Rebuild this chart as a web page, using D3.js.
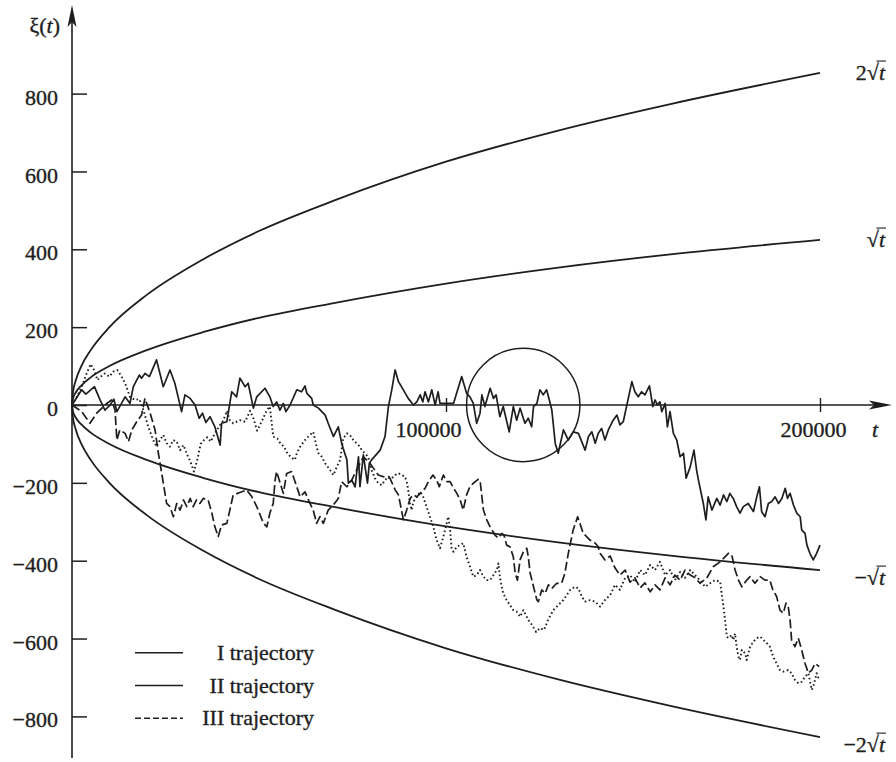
<!DOCTYPE html>
<html>
<head>
<meta charset="utf-8">
<script src="https://cdn.jsdelivr.net/npm/d3@7"></script>
<style>
  body { margin: 0; background: #fff; }
  svg { display: block; }
  text { font-family: "Liberation Serif", "Times New Roman", serif; fill: #1e1e1e; stroke: #1e1e1e; stroke-width: 0.35px; }
</style>
</head>
<body>
<svg id="chart" width="896" height="762"></svg>
<script>
// ---------- data ----------
const yTicks = [-800, -600, -400, -200, 0, 200, 400, 600, 800];
const xTicks = [100000, 200000];
const xTickLabels = ["100000", "200000"];

// envelope curves, read at these times
const boundT       = [0, 250, 1000, 2500, 5000, 10000, 20000, 35000, 50000, 70000, 100000, 130000, 160000, 200000];
const rootBound    = [0, 16, 32, 50, 71, 100, 141, 187, 224, 262, 312, 353, 387, 424];
const twoRootBound = [0, 32, 63, 100, 141, 200, 283, 374, 447, 525, 625, 705, 773, 853];

// sample paths [t, xi(t)]
const trajI = [
  [0,0],[2600,39],[3700,28],[6000,47],[7500,13],[8800,-13],[10200,0],[11200,15],[12000,-17],[14200,21],
  [15500,4],[16400,47],[18000,77],[18600,69],[19500,81],[20700,73],[22600,116],[24400,47],[26200,90],[27500,56],
  [29300,-17],[30200,26],[31600,17],[32900,0],[34000,-34],[34900,-21],[35800,-45],[36900,-30],[38200,-56],[39600,-103],
  [40000,-47],[41400,-43],[42700,34],[44000,21],[44900,69],[46300,47],[47100,56],[48500,-8],[49400,21],[51600,43],
  [52900,21],[53800,-4],[54700,8],[55600,-13],[56500,4],[57200,-17],[58300,0],[60100,39],[61400,34],[62300,49],
  [62800,30],[64100,17],[64500,0],[65900,-8],[66800,-17],[67700,-26],[68500,-47],[69900,-81],[71200,-56],[72100,-98],
  [72500,-111],[73500,-141],[73900,-201],[74800,-193],[75700,-210],[76600,-133],[77000,-210],[77900,-128],[79000,-201],[79500,-150],
  [80100,-141],[82400,-116],[83700,-81],[84600,-4],[85500,39],[86400,90],[87300,60],[88600,39],[89900,17],[91300,0],
  [92200,8],[93100,26],[93800,8],[94400,34],[95300,8],[96200,39],[97100,0],[97900,34],[98400,4],[102000,4],
  [104200,73],[105500,30],[106400,21],[107300,4],[108200,-47],[109100,-21],[109600,26],[110400,-4],[111800,43],[112700,17],
  [113400,26],[114400,-30],[115300,-4],[116900,-69],[118000,-4],[118900,-39],[119800,-8],[121100,-47],[122000,-34],[122900,-56],
  [123400,-4],[124300,4],[125100,39],[126000,26],[126900,39],[127400,21],[128300,-13],[129200,-98],[130000,-124],[131400,-64],
  [132700,-90],[134000,-69],[135400,-73],[137200,-116],[138100,-81],[139000,-69],[139900,-98],[140700,-73],[141600,-60],[142500,-90],
  [143400,-64],[144700,-39],[145700,-26],[146500,-51],[147400,-43],[149700,60],[150500,34],[151400,21],[152300,34],[153200,26],
  [154400,49],[155300,-4],[155900,13],[156500,0],[157200,8],[157700,-17],[158600,4],[159200,-56],[159900,-17],[160800,-73],
  [161700,-90],[162600,-133],[163500,-124],[164200,-188],[165300,-159],[166300,-116],[167000,-167],[167500,-193],[168800,-253],[169500,-295],
  [170100,-236],[171100,-270],[172400,-240],[173300,-257],[174200,-231],[175100,-248],[175900,-227],[176800,-240],[177700,-261],[178600,-278],
  [179500,-261],[180800,-253],[182200,-274],[183100,-236],[183800,-210],[184400,-274],[185300,-287],[186200,-253],[187100,-248],[188000,-236],
  [188900,-253],[189800,-240],[190700,-214],[191300,-240],[192000,-227],[192900,-257],[193800,-278],[194700,-287],[195100,-321],[196000,-330],
  [196500,-360],[197300,-381],[198200,-398],[199100,-381],[200000,-360]
];

const trajII = [
  [0,0],[1300,21],[2600,47],[3900,81],[5000,105],[5900,90],[6800,64],[7700,73],[8800,81],[10000,73],
  [11000,86],[12100,90],[13000,77],[14200,56],[15500,21],[16800,13],[18000,15],[19100,-13],[20400,-56],[21700,-90],
  [22600,-107],[23500,-90],[24400,-77],[25300,-98],[26200,-107],[27100,-90],[28000,-94],[28900,-116],[29800,-103],[30800,-128],
  [31700,-146],[32600,-171],[33500,-141],[34400,-100],[35300,-90],[36200,-83],[37100,-94],[38200,-73],[39600,-51],[40500,-39],
  [41400,-15],[42200,-39],[43100,-47],[44900,-39],[46300,-43],[47600,-15],[48500,-34],[49500,-66],[50700,-43],[52100,-13],
  [52900,-4],[53800,-81],[54900,-86],[55800,-100],[56700,-107],[57600,-124],[58500,-134],[59600,-141],[60100,-124],[61000,-107],
  [62300,-90],[63600,-77],[64500,-69],[65400,-107],[65900,-124],[66800,-133],[67700,-150],[69000,-167],[69900,-180],[70800,-159],
  [71700,-141],[72500,-86],[73500,-73],[74300,-77],[75200,-90],[76600,-103],[77500,-116],[78300,-124],[79200,-133],[80100,-167],
  [81000,-188],[81900,-201],[82800,-206],[83700,-193],[84600,-184],[85500,-188],[86400,-180],[87300,-175],[88200,-180],[89000,-184],
  [89500,-197],[89900,-218],[90400,-253],[90800,-270],[91300,-248],[92200,-236],[93100,-223],[93900,-236],[94800,-261],[95700,-287],
  [96600,-313],[97500,-347],[98400,-368],[99300,-338],[100600,-287],[101100,-321],[101500,-368],[102000,-377],[102900,-364],[103800,-360],
  [104600,-355],[105500,-390],[106400,-415],[107300,-441],[108200,-437],[109100,-424],[110000,-441],[110900,-450],[111800,-450],[112700,-437],
  [113600,-424],[114000,-407],[114400,-441],[114900,-467],[115300,-484],[116200,-501],[117100,-514],[118000,-527],[118900,-531],[119800,-544],
  [120700,-527],[122000,-552],[123000,-565],[124100,-583],[125100,-573],[126200,-578],[127300,-552],[128700,-527],[130000,-514],[131400,-501],
  [133200,-475],[134500,-467],[135400,-471],[136300,-492],[137200,-505],[138100,-501],[139900,-505],[141200,-518],[142500,-501],[143900,-488],
  [145200,-462],[146500,-475],[147900,-444],[149200,-437],[150500,-455],[151900,-424],[153200,-437],[154600,-411],[155900,-424],[157200,-403],
  [158600,-437],[159900,-424],[161200,-450],[162600,-429],[163900,-444],[165300,-424],[166600,-437],[167900,-450],[169300,-467],[170600,-458],
  [171900,-450],[173300,-454],[173700,-484],[174200,-518],[174600,-552],[175100,-595],[175500,-599],[176400,-591],[176800,-604],[177300,-587],
  [177700,-621],[178200,-647],[178600,-655],[179100,-629],[180000,-638],[180400,-655],[181300,-621],[182200,-608],[183100,-599],[184000,-595],
  [184900,-604],[185800,-612],[186600,-621],[187500,-647],[188400,-664],[189300,-681],[190200,-685],[191500,-681],[192400,-689],[193300,-706],
  [194200,-715],[195100,-711],[196000,-698],[196900,-689],[197800,-732],[198200,-724],[199100,-689],[199800,-707]
];

const trajIII = [
  [0,0],[2600,-17],[4800,-47],[6600,-21],[9300,4],[10600,13],[11500,-13],[12000,-90],[12800,-64],[14200,-73],
  [15100,-94],[16000,-64],[17300,-43],[18600,-26],[19500,17],[20900,-21],[22200,-64],[23100,-124],[24000,-176],[25300,-253],
  [26200,-261],[27100,-287],[28000,-253],[28900,-270],[29800,-244],[30700,-261],[31600,-240],[32400,-261],[33300,-244],[34200,-253],
  [35100,-240],[36400,-244],[37400,-278],[38200,-313],[39100,-338],[40000,-308],[41400,-304],[42200,-270],[43100,-231],[45400,-223],
  [46700,-218],[48100,-236],[49400,-261],[51200,-304],[52100,-313],[52900,-278],[53800,-253],[54300,-193],[54700,-171],[56500,-227],
  [57400,-176],[58700,-171],[60100,-210],[61000,-236],[62300,-223],[63200,-244],[64500,-270],[65400,-304],[66300,-287],[67200,-304],
  [68500,-270],[69900,-257],[71200,-240],[72100,-197],[73500,-210],[74800,-193],[76100,-167],[77900,-133],[79700,-150],[81900,-180],
  [83200,-184],[85000,-188],[86400,-218],[87300,-231],[88600,-295],[89500,-270],[90400,-240],[91300,-231],[92200,-236],[93100,-227],
  [94400,-214],[95300,-197],[96500,-180],[97500,-193],[98200,-210],[99300,-180],[100200,-197],[101100,-197],[101800,-210],[102900,-227],
  [103800,-244],[104600,-270],[105500,-231],[106400,-210],[107300,-201],[108600,-191],[109100,-193],[109600,-236],[110000,-270],[110900,-295],
  [111800,-313],[113100,-334],[114000,-342],[114900,-330],[115500,-334],[116200,-360],[117100,-364],[118000,-390],[118500,-432],[119100,-450],
  [119800,-398],[120700,-377],[121600,-368],[122000,-390],[122500,-432],[123400,-467],[124300,-501],[124700,-505],[125600,-475],[126500,-484],
  [127400,-462],[128300,-471],[129600,-458],[130900,-458],[131800,-432],[132700,-381],[134000,-321],[135200,-287],[135800,-304],[136700,-330],
  [137600,-338],[138500,-347],[139900,-355],[140700,-364],[141200,-381],[142500,-398],[143900,-388],[145200,-419],[146500,-437],[147900,-424],
  [149200,-455],[150500,-444],[151900,-470],[153200,-457],[154600,-480],[155900,-462],[157200,-475],[158600,-444],[159900,-462],[161200,-437],
  [162600,-450],[163900,-424],[165300,-437],[166600,-444],[167900,-458],[169700,-445],[171500,-415],[173300,-403],[174600,-390],[175500,-381],
  [176400,-385],[177300,-424],[178200,-450],[179100,-467],[180400,-450],[181300,-441],[182600,-458],[184000,-441],[185300,-450],[186600,-450],
  [187400,-475],[188400,-492],[189300,-527],[190200,-535],[190900,-509],[191500,-518],[192000,-552],[192400,-604],[193300,-621],[194200,-599],
  [195100,-629],[196000,-664],[196900,-689],[197800,-681],[198700,-664],[199800,-672]
];

// the ringed stretch of path I (time span covered by the circle)
const focusSpan = [105500, 135800];

const legendLabels = ["I trajectory", "II trajectory", "III trajectory"];

// ---------- drawing ----------
const svg = d3.select("#chart");
const ink = "#1e1e1e";
const fs = 22;

const x = d3.scaleLinear().domain([0, 200000]).range([72, 820]);
const y = d3.scaleLinear().domain([-800, 800]).range([716.4, 93.6]);

const x0 = x(0), y0 = y(0);

// y axis with arrow
svg.append("line").attr("x1", x0).attr("x2", x0).attr("y1", 758).attr("y2", 14)
  .attr("stroke", ink).attr("stroke-width", 1.6);
svg.append("path")
  .attr("d", `M${x0},5 L${x0 - 4.5},27 L${x0},22 L${x0 + 4.5},27 Z`)
  .attr("fill", ink);

// x axis with arrow
svg.append("line").attr("x1", x0).attr("x2", 884).attr("y1", y0).attr("y2", y0)
  .attr("stroke", ink).attr("stroke-width", 1.6);
svg.append("path")
  .attr("d", `M892,${y0} L869,${y0 - 4.5} L874,${y0} L869,${y0 + 4.5} Z`)
  .attr("fill", ink);

// y ticks (pointing inward) and labels
const yAxis = d3.axisLeft(y)
  .tickValues(yTicks)
  .tickSize(-15)
  .tickPadding(14)
  .tickFormat(d => d < 0 ? "\u2212" + Math.abs(d) : String(d));
const gy = svg.append("g").attr("transform", `translate(${x0},0)`).call(yAxis);
gy.select(".domain").remove();
gy.selectAll(".tick line").attr("stroke", ink).attr("stroke-width", 1.5);
gy.selectAll(".tick text")
  .attr("font-family", '"Liberation Serif", serif')
  .attr("font-size", fs)
  .attr("fill", ink)
  .attr("dy", "0.48em");
gy.attr("font-family", null).attr("font-size", null);

// x ticks and labels (labels sit a little left of their ticks)
const xLabelShift = [-18, -7];
const xAxis = d3.axisBottom(x)
  .tickValues(xTicks)
  .tickSize(7)
  .tickSizeOuter(0)
  .tickPadding(9.5)
  .tickFormat((d, i) => xTickLabels[i]);
const gx = svg.append("g").attr("transform", `translate(0,${y0})`).call(xAxis);
gx.select(".domain").remove();
gx.selectAll(".tick line").attr("stroke", ink).attr("stroke-width", 1.4).attr("y1", -7);
gx.selectAll(".tick text")
  .attr("font-family", '"Liberation Serif", serif')
  .attr("font-size", fs)
  .attr("fill", ink)
  .attr("dx", (d, i) => xLabelShift[i]);
gx.attr("font-family", null).attr("font-size", null);

// axis titles
const yTitle = svg.append("text").attr("x", 60).attr("y", 33).attr("text-anchor", "end").attr("font-size", fs);
yTitle.append("tspan").text("\u03BE(");
yTitle.append("tspan").attr("font-style", "italic").text("t");
yTitle.append("tspan").text(")");
svg.append("text").attr("x", 872).attr("y", 437).attr("font-size", fs).attr("font-style", "italic").text("t");

// envelope curves ±√t, ±2√t
const envLine = d3.line().x(d => x(d[0])).y(d => y(d[1])).curve(d3.curveMonotoneX);
const envelopes = [
  { vals: twoRootBound, sign: 1, prefix: "2" },
  { vals: rootBound, sign: 1, prefix: "" },
  { vals: rootBound, sign: -1, prefix: "\u2212" },
  { vals: twoRootBound, sign: -1, prefix: "\u22122" }
];
envelopes.forEach(e => {
  const pts = boundT.map((t, i) => [t, e.sign * e.vals[i]]);
  svg.append("path").attr("d", envLine(pts))
    .attr("fill", "none").attr("stroke", ink).attr("stroke-width", 1.8);

  const last = pts[pts.length - 1];
  const base = y(last[1]) + (e.sign > 0 ? 7 : 15);
  const label = svg.append("text").attr("x", 885).attr("y", base)
    .attr("text-anchor", "end").attr("font-size", fs);
  label.append("tspan").text(e.prefix + "\u221A");
  label.append("tspan").attr("font-style", "italic").text("t");
  // vinculum over t
  const n = (e.prefix + "\u221A").length;
  const node = label.node();
  const rad = node.getExtentOfChar(n - 1);
  const tc = node.getExtentOfChar(n);
  const vy = base - 0.86 * fs;
  svg.append("line")
    .attr("x1", rad.x + rad.width * 0.8).attr("x2", tc.x + tc.width + 1)
    .attr("y1", vy).attr("y2", vy)
    .attr("stroke", ink).attr("stroke-width", 1.1);
});

// sample paths
const pathLine = d3.line().x(d => x(d[0])).y(d => y(d[1]));
svg.append("path").attr("d", pathLine(trajII))
  .attr("fill", "none").attr("stroke", ink).attr("stroke-width", 1.9)
  .attr("stroke-dasharray", "1.6 2.6").attr("stroke-linejoin", "round");
svg.append("path").attr("d", pathLine(trajIII))
  .attr("fill", "none").attr("stroke", ink).attr("stroke-width", 1.7)
  .attr("stroke-dasharray", "9 3.5").attr("stroke-linejoin", "round");
svg.append("path").attr("d", pathLine(trajI))
  .attr("fill", "none").attr("stroke", ink).attr("stroke-width", 1.7)
  .attr("stroke-linejoin", "round");

// circle around the stretch of path I near zero
const cx = (x(focusSpan[0]) + x(focusSpan[1])) / 2;
const r = (x(focusSpan[1]) - x(focusSpan[0])) / 2;
svg.append("circle").attr("cx", cx).attr("cy", y(0)).attr("r", r)
  .attr("fill", "none").attr("stroke", ink).attr("stroke-width", 1.5);

// legend
const legendDash = [null, null, "6 3"];
const lg = svg.append("g");
legendLabels.forEach((lab, i) => {
  const ly = 652.7 + i * 32.8;
  lg.append("line").attr("x1", 135).attr("x2", 183).attr("y1", ly).attr("y2", ly)
    .attr("stroke", ink).attr("stroke-width", 1.6)
    .attr("stroke-dasharray", legendDash[i]);
  lg.append("text").attr("x", 314).attr("y", ly + 7).attr("text-anchor", "end")
    .attr("font-size", fs).text(lab);
});
</script>
</body>
</html>
